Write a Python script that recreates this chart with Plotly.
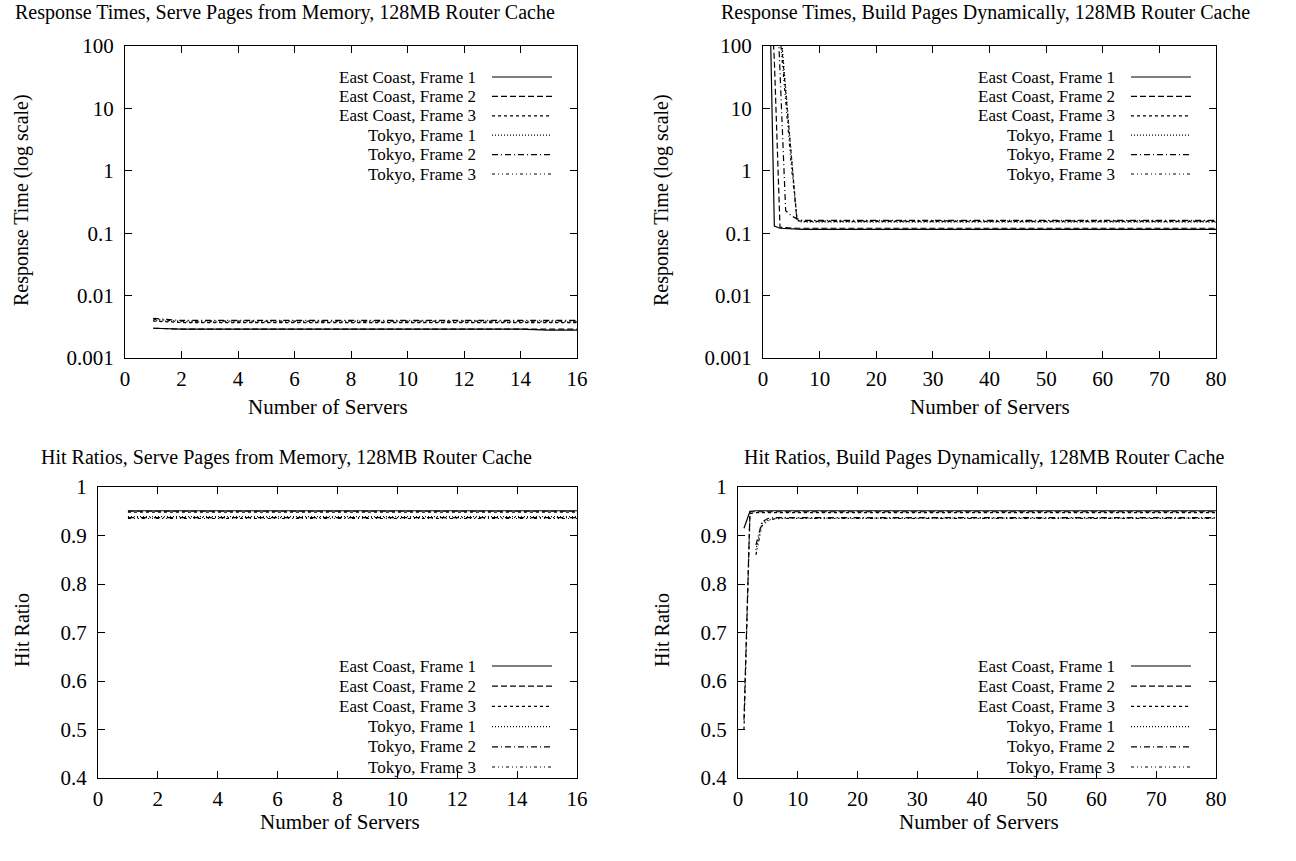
import plotly.graph_objects as go

W, H = 1296, 861
FONT = "Liberation Serif"
FS = 21
LEG_FS = 17

def px(x):
    return x / W

def py(y):
    return 1 - y / H

# ---------------- data ----------------
series_names = ["East Coast, Frame 1", "East Coast, Frame 2", "East Coast, Frame 3",
                "Tokyo, Frame 1", "Tokyo, Frame 2", "Tokyo, Frame 3"]
dashes = ["solid", "6px,3px", "3px,3px", "1px,2px", "6px,3px,1px,3px", "3px,3px,1px,3px,1px,3px"]

# Serve pages from memory (1..16 servers)
mem_servers = list(range(1, 17))
mem_rt_ec1 = [0.0030] + [0.0029] * 13 + [0.0028, 0.0028]
mem_rt_ec2 = [0.0030] + [0.0029] * 15
mem_rt_ec3 = [0.0039] + [0.0037] * 15
mem_rt_tk1 = [0.0040] + [0.0038] * 15
mem_rt_tk2 = [0.0043] + [0.0040] * 15
mem_rt_tk3 = [0.0042] + [0.0039] * 15

mem_hr_ec1 = [0.951] * 16
mem_hr_ec2 = [0.950] * 16
mem_hr_ec3 = [0.948] * 16
mem_hr_tk1 = [0.939] * 16
mem_hr_tk2 = [0.937] * 16
mem_hr_tk3 = [0.935] * 16

# Build pages dynamically (1..80 servers)
dyn_servers = [1, 2, 3, 4, 5, 6, 7, 8, 9, 10, 15, 20, 25, 30, 35, 40, 45, 50, 55, 60, 65, 70, 75, 80]
dyn_rt_ec1 = [5000, 0.13, 0.12, 0.118, 0.117, 0.116] + [0.115] * 18
dyn_rt_ec2 = [3000, 60, 0.125, 0.122, 0.121, 0.12] + [0.12] * 18
dyn_rt_ec3 = [5000, 5000, 200, 18, 1.7, 0.16] + [0.155] * 18
dyn_rt_tk1 = [5000, 5000, 250, 20, 2.0, 0.16] + [0.15] * 18
dyn_rt_tk2 = [5000, 5000, 40, 0.23, 0.19, 0.17] + [0.16] * 18
dyn_rt_tk3 = [5000, 5000, 150, 12, 1.2, 0.17] + [0.158] * 18

dyn_hr_ec1 = [0.915, 0.950, 0.951, 0.951, 0.951, 0.951] + [0.951] * 18
dyn_hr_ec2 = [0.52, 0.949, 0.949, 0.949, 0.949, 0.949] + [0.949] * 18
dyn_hr_ec3 = [0.50, 0.945, 0.947, 0.947, 0.947, 0.947] + [0.947] * 18
dyn_hr_tk1 = [None, None, 0.87, 0.925, 0.932, 0.935] + [0.936] * 18
dyn_hr_tk2 = [None, None, 0.88, 0.928, 0.935, 0.937] + [0.937] * 18
dyn_hr_tk3 = [None, None, 0.86, 0.920, 0.930, 0.934] + [0.935] * 18

panels = [
    dict(x=mem_servers, ys=[mem_rt_ec1, mem_rt_ec2, mem_rt_ec3, mem_rt_tk1, mem_rt_tk2, mem_rt_tk3], ax=""),
    dict(x=dyn_servers, ys=[dyn_rt_ec1, dyn_rt_ec2, dyn_rt_ec3, dyn_rt_tk1, dyn_rt_tk2, dyn_rt_tk3], ax="2"),
    dict(x=mem_servers, ys=[mem_hr_ec1, mem_hr_ec2, mem_hr_ec3, mem_hr_tk1, mem_hr_tk2, mem_hr_tk3], ax="3"),
    dict(x=dyn_servers, ys=[dyn_hr_ec1, dyn_hr_ec2, dyn_hr_ec3, dyn_hr_tk1, dyn_hr_tk2, dyn_hr_tk3], ax="4"),
]

titles = ["Response Times, Serve Pages from Memory, 128MB Router Cache",
          "Response Times, Build Pages Dynamically, 128MB Router Cache",
          "Hit Ratios, Serve Pages from Memory, 128MB Router Cache",
          "Hit Ratios, Build Pages Dynamically, 128MB Router Cache"]
xlabel = "Number of Servers"
ylabels = ["Response Time (log scale)", "Response Time (log scale)", "Hit Ratio", "Hit Ratio"]
log_tickvals = [0.001, 0.01, 0.1, 1, 10, 100]
log_ticktext = ["0.001", "0.01", "0.1", "1", "10", "100"]

fig = go.Figure()
for p in panels:
    for name, y, d in zip(series_names, p["ys"], dashes):
        fig.add_trace(go.Scatter(x=p["x"], y=y, mode="lines", name=name, showlegend=False,
                                 line=dict(color="black", width=1.2, dash=d),
                                 xaxis="x" + p["ax"], yaxis="y" + p["ax"]))

# ---------------- layout ----------------
boxes = [(125, 577, 46, 358), (763, 1216, 46, 358), (98, 577, 487, 778), (738, 1216, 487, 778)]
common = dict(showline=True, linecolor="black", linewidth=1.3, mirror="allticks", ticks="inside",
              ticklen=7, tickwidth=1, tickcolor="black", showgrid=False, zeroline=False,
              automargin=False, tickfont=dict(family=FONT, size=FS, color="black"))

layout = dict(width=W, height=H, margin=dict(l=0, r=0, t=0, b=0, pad=0), paper_bgcolor="white",
              plot_bgcolor="white", showlegend=False, font=dict(family=FONT, size=FS, color="black"))
xranges = [[0, 16], [0, 80], [0, 16], [0, 80]]
xdticks = [2, 10, 2, 10]
for i, (l, r, t, b) in enumerate(boxes):
    sfx = "" if i == 0 else str(i + 1)
    layout["xaxis" + sfx] = dict(common, domain=[px(l), px(r)], range=xranges[i], dtick=xdticks[i],
                                 tick0=0, anchor="y" + sfx, ticklabelstandoff=2)
    if i < 2:
        layout["yaxis" + sfx] = dict(common, domain=[py(b), py(t)], type="log", range=[-3, 2],
                                     tickvals=log_tickvals, ticktext=log_ticktext, anchor="x" + sfx,
                                     ticklabelstandoff=6)
    else:
        layout["yaxis" + sfx] = dict(common, domain=[py(b), py(t)], range=[0.4, 1], dtick=0.1,
                                     tick0=0.4, anchor="x" + sfx, ticklabelstandoff=6)
fig.update_layout(**layout)

ann = []
title_pos = [(285, 13), (985, 13), (286, 458), (984, 458)]
xlab_pos = [(328, 407), (990, 407), (340, 822), (979, 822)]
ylab_pos = [(22, 200), (662, 200), (22, 630), (662, 630)]
for i in range(4):
    ann.append(dict(text=titles[i], x=px(title_pos[i][0]), y=py(title_pos[i][1]), xref="paper",
                    yref="paper", showarrow=False, xanchor="center", yanchor="middle",
                    font=dict(family=FONT, size=20)))
    ann.append(dict(text=xlabel, x=px(xlab_pos[i][0]), y=py(xlab_pos[i][1]), xref="paper",
                    yref="paper", showarrow=False, xanchor="center", yanchor="middle",
                    font=dict(family=FONT, size=21)))
    ann.append(dict(text=ylabels[i], x=px(ylab_pos[i][0]), y=py(ylab_pos[i][1]), xref="paper",
                    yref="paper", showarrow=False, xanchor="center", yanchor="middle", textangle=-90,
                    font=dict(family=FONT, size=20)))

shapes = []
leg_top = [77, 77, 666, 666]
leg_step = [19.4, 19.4, 20.2, 20.2]
for i, (l, r, t, b) in enumerate(boxes):
    for k, (name, d) in enumerate(zip(series_names, dashes)):
        yy = leg_top[i] + k * leg_step[i]
        ann.append(dict(text=name, x=px(r - 100), y=py(yy), xref="paper", yref="paper",
                        showarrow=False, xanchor="right", yanchor="middle", borderpad=0,
                        font=dict(family=FONT, size=LEG_FS)))
        shapes.append(dict(type="line", xref="paper", yref="paper", x0=px(r - 85), x1=px(r - 25),
                           y0=py(yy), y1=py(yy), line=dict(color="black", width=1.2, dash=d)))
fig.update_layout(annotations=ann, shapes=shapes)

fig.write_html("out.html",
               post_script="document.body.style.margin='0px';document.body.style.padding='0px';"
                           "document.documentElement.style.margin='0px';")
